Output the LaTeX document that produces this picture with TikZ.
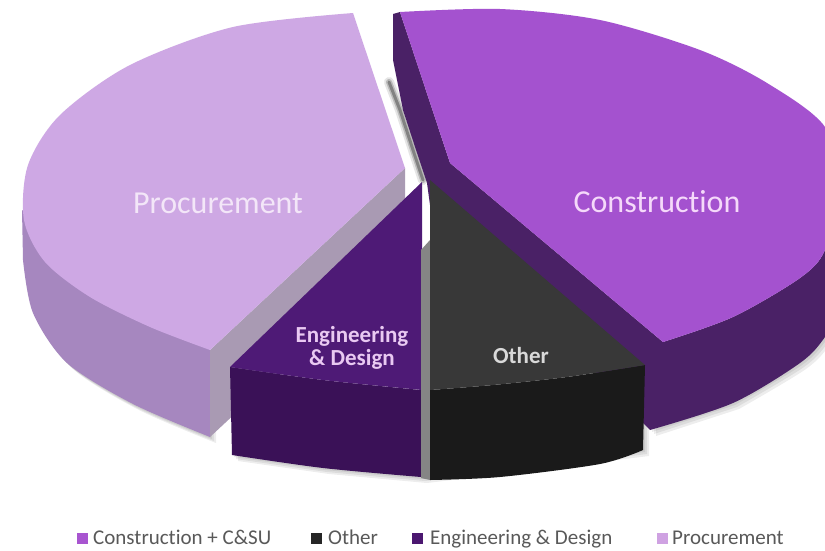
\documentclass[tikz,border=0pt]{standalone}
\usepackage{fontspec}
\setmainfont{Carlito}[Ligatures=NoCommon]
\definecolor{procTop}{HTML}{CEA8E4}
\definecolor{procSide}{HTML}{A687BF}
\definecolor{procCut}{HTML}{A99AB3}
\definecolor{consTop}{HTML}{A452CF}
\definecolor{consSide}{HTML}{4A2166}
\definecolor{engTop}{HTML}{4E1A76}
\definecolor{engSide}{HTML}{3A1157}
\definecolor{othTop}{HTML}{383838}
\definecolor{othSide}{HTML}{1A1A1A}
\definecolor{othCut}{HTML}{858585}
\definecolor{legText}{HTML}{595959}
\definecolor{legCons}{HTML}{A855D0}
\definecolor{legOth}{HTML}{262626}
\definecolor{legEng}{HTML}{4B1770}
\definecolor{legProc}{HTML}{CFA2E2}
\definecolor{txtProc}{HTML}{F3E6F8}
\definecolor{txtCons}{HTML}{F5D9FA}
\definecolor{txtEng}{HTML}{E9C9F2}
\definecolor{txtOth}{HTML}{D9D9D9}
\begin{document}
\begin{tikzpicture}[x=1pt,y=-1pt,
  biglbl/.style={font=\fontsize{32}{36}\selectfont, anchor=base, inner sep=0pt},
  midlbl/.style={font=\fontsize{23}{26}\selectfont\bfseries, anchor=base, inner sep=0pt},
  legsq/.style={minimum size=11pt, inner sep=0pt, anchor=north west},
  legtxt/.style={font=\fontsize{21}{24}\selectfont, text=legText, anchor=base west, inner sep=0pt},
  shadow/.style={fill=black, opacity=0.07}]
\useasboundingbox (0,0) rectangle (825,550);
\clip (0,0) rectangle (825,550);
\fill[white] (0,0) rectangle (825,550);

% ---- soft shadows ----
\foreach \d in {2,4,6}{
  \fill[shadow, shift={(\d,\d)}] (22,210) -- plot[smooth] coordinates {(23,260) (33,313) (67,363) (133,404) (210,437)} -- (210,350) -- cycle;
  \fill[shadow, shift={(\d,\d)}] (232,420) -- (232,455) -- plot[smooth] coordinates {(323,468) (421,477)} -- (643,450) -- (643,400) -- cycle;
  \fill[shadow, shift={(\d,\d)}] (650,400) -- (650,430) -- plot[smooth] coordinates {(733,403) (800,363) (825,337) (845,300)} -- (845,250) -- cycle;
}
% shadow in the gap between Procurement and Construction
\foreach \w/\o in {10/0.10,6/0.18,3/0.3}{
  \draw[black, opacity=\o, line width=\w pt, line cap=round] (389,82) -- (400,110) -- (414,153) -- (423,180);
}

% ---- Construction (dark sides / cut faces) ----
\fill[consSide] (393,14) -- (400,12) -- (450,163) -- (663,342)
  -- plot[smooth] coordinates {(663,342) (733,317) (800,278) (825,250) (838,190)}
  -- (850,190) -- (850,300)
  -- plot[smooth] coordinates {(845,300) (825,337) (800,363) (733,403) (650,430)}
  -- (430,205) -- (427,183) -- (417,153) -- (403,110) -- (393,60) -- cycle;
% Construction top face
\fill[consTop] (400,12) -- (450,163) -- (663,342)
  -- plot[smooth] coordinates {(663,342) (733,317) (800,278) (825,250) (838,190) (825,127) (767,83) (700,50) (600,20) (500,9) (400,12)}
  -- cycle;

% ---- Procurement ----
\fill[procSide] (22,210) -- plot[smooth] coordinates {(23,260) (33,313) (67,363) (133,404) (210,437)}
  -- (210,350) -- cycle;
\fill[procCut] (405,168) -- (210,350) -- (210,437) -- (405,255) -- cycle;
\fill[procTop] (353,13) -- (405,168) -- (210,350)
  -- plot[smooth] coordinates {(210,350) (150,327) (90,297) (45,262) (24,220) (28,165) (60,115) (130,65) (233,27) (353,13)}
  -- cycle;

% ---- Engineering & Design ----
\fill[engSide] (230,367) -- (232,455) -- plot[smooth] coordinates {(232,455) (323,468) (421,477)}
  -- (421,390) -- plot[smooth] coordinates {(421,390) (323,380) (230,367)} -- cycle;
\fill[engTop] (422,182) -- (230,367) -- plot[smooth] coordinates {(230,367) (323,380) (422,390)} -- cycle;

% ---- Other ----
\fill[othCut] (421,250) -- (430,240) -- (430,480) -- (421,478) -- cycle;
\fill[othSide] (645,365) -- (643,450) -- plot[smooth] coordinates {(643,450) (600,464) (500,477) (430,480)}
  -- (430,390) -- plot[smooth] coordinates {(430,390) (493,385) (567,377) (645,365)} -- cycle;
\fill[othTop] (430,180) -- (645,365) -- plot[smooth] coordinates {(645,365) (567,377) (493,385) (430,390)} -- cycle;

% ---- labels ----
\node[biglbl, text=txtProc] (lproc) at (218,213) {Procurement};
\node[biglbl, text=txtCons] (lcons) at (657,212) {Construction};
\node[midlbl, text=txtEng] (leng1) at (352,342) {Engineering};
\node[midlbl, text=txtEng] (leng2) at (352,365) {\& Design};
\node[midlbl, text=txtOth] (loth) at (521,363) {Other};

% ---- legend ----
\node[legsq, fill=legCons] (sq1) at (77,533) {};
\node[legtxt] (t1) at (93,544) {Construction + C\&SU};
\node[legsq, fill=legOth] (sq2) at (311,533) {};
\node[legtxt] (t2) at (328,544) {Other};
\node[legsq, fill=legEng] (sq3) at (412,533) {};
\node[legtxt] (t3) at (430,544) {Engineering \& Design};
\node[legsq, fill=legProc] (sq4) at (657,533) {};
\node[legtxt] (t4) at (672,544) {Procurement};
\end{tikzpicture}
\end{document}
